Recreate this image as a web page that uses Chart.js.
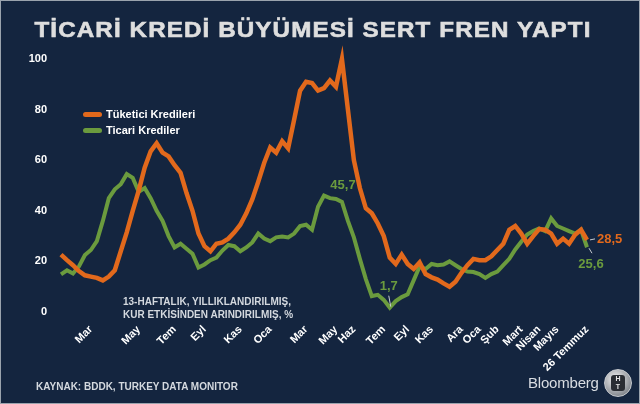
<!DOCTYPE html>
<html>
<head>
<meta charset="utf-8">
<script src="https://cdn.jsdelivr.net/npm/chart.js@4.4.1/dist/chart.umd.min.js"></script>
<style>
  html, body { margin: 0; padding: 0; background: #14253f; }
  #wrap {
    position: relative; width: 640px; height: 404px; overflow: hidden;
    background: #14253f; box-sizing: border-box; border: 1px solid #9aa3ad;
    font-family: "Liberation Sans", Arial, sans-serif;
  }
  #chart { position: absolute; left: -1px; top: -1px; }
  #title {
    position: absolute; left: 0; top: 16px; width: 624px; text-align: center;
    color: #dedede; font-weight: bold; font-size: 22px; letter-spacing: 1px;
    -webkit-text-stroke: 0.6px #dedede;
    transform: scaleX(1.1); transform-origin: 312px 0;
  }
  .legend { position: absolute; left: 82px; color: #fff; font-weight: bold; font-size: 11px; }
  .legend span.bar {
    display: inline-block; width: 19px; height: 5px; border-radius: 3px;
    vertical-align: middle; margin-right: 4px; position: relative; top: -1px;
  }
  #note {
    position: absolute; left: 122px; top: 294px; color: #d4d9df;
    font-weight: bold; font-size: 10px; line-height: 13px;
  }
  #source {
    position: absolute; left: 35px; top: 380px; color: #d4d9df;
    font-weight: bold; font-size: 10px;
  }
  #brand {
    position: absolute; left: 527px; top: 373px; color: #d9dde2;
    font-size: 15px; letter-spacing: -0.2px;
  }
  #logo {
    position: absolute; left: 603px; top: 368px; width: 26px; height: 26px; border-radius: 50%;
    background: radial-gradient(circle at 40% 35%, #f2f2f2, #8c9096 70%, #4a4e55);
    border: 1px solid #c9ccd0;
  }
  #logo div {
    position: absolute; left: 6px; top: 5px; width: 14px; height: 16px; border-radius: 3px;
    background: #2a2d33; color: #e6e6e6; font-size: 7px; font-weight: bold;
    text-align: center; line-height: 8px;
  }
</style>
</head>
<body>
<div id="wrap">
  <canvas id="chart" width="640" height="404"></canvas>
  <div id="title">TİCARİ KREDİ BÜYÜMESİ SERT FREN YAPTI</div>
  <div class="legend" style="top:107px"><span class="bar" style="background:#e2691c"></span>Tüketici Kredileri</div>
  <div class="legend" style="top:123px"><span class="bar" style="background:#6b9b3e"></span>Ticari Krediler</div>
  <div id="note">13-HAFTALIK, YILLIKLANDIRILMIŞ,<br>KUR ETKİSİNDEN ARINDIRILMIŞ, %</div>
  <div id="source">KAYNAK: BDDK, TURKEY DATA MONITOR</div>
  <div id="brand">Bloomberg</div>
  <div id="logo"><div>H<br>T</div></div>
</div>
<script>
// 13-week annualised growth, % (Jan 2019 - 26 Jul 2021)
const tuketici = [22.7, 20.5, 18.5, 16.2, 14.5, 14, 13.5, 12.5, 14, 16.5,
  24, 31.5, 40, 48, 57, 63.5, 66.7, 63, 61.5, 58,
  55, 47, 40, 31, 26, 24, 27, 27.5, 29, 31.5,
  34.5, 39, 44.5, 51.5, 59, 65, 63, 67.5, 64.7, 76,
  87.5, 91, 90.5, 87.5, 88.5, 91.5, 89, 100, 80, 60,
  49, 41, 39, 35, 30, 21.5, 19, 22.7, 19, 17,
  19.6, 15, 13.7, 12.8, 11.3, 10, 12, 15.5, 18.5, 21,
  20.5, 20.5, 22, 24.5, 27, 32.5, 34, 31, 27, 30,
  32.8, 32.5, 31, 27, 29, 27, 30.5, 32.5, 28.5];

const ticari = [14.9, 16.5, 15.2, 18, 22.5, 24.5, 28, 36, 45, 48.5,
  50.5, 54.5, 53, 47.5, 49, 45, 40, 36, 30, 25.5,
  27, 25, 23, 17.6, 18.8, 20.5, 21.5, 24.3, 26.5, 26,
  24, 25.5, 27.5, 31, 29, 28, 29.5, 29.8, 29.5, 31,
  34, 34.5, 32.5, 41.6, 46, 45, 44.7, 43.5, 36, 29.5,
  21, 13, 6.3, 6.8, 4.8, 1.7, 4.3, 5.9, 7, 12.5,
  18, 17, 19, 18.5, 18.8, 20, 18.5, 17, 16, 15.8,
  15, 13.5, 15, 16, 18.5, 21, 24.7, 27.8, 30.6, 32,
  33, 32, 37, 34, 33, 32, 31, 32.5, 25.6];

// month labels and the data point each one sits under
const tickIdx = [5, 13, 19, 24, 30, 35, 41, 46, 49, 54, 58, 62, 67, 70, 73, 77, 80, 83, 88];
const tickText = ['Mar', 'May', 'Tem', 'Eyl', 'Kas', 'Oca', 'Mar', 'May', 'Haz', 'Tem', 'Eyl',
  'Kas', 'Ara', 'Oca', 'Şub', 'Mart', 'Nisan', 'Mayıs', '26 Temmuz'];

const yTicks = [0, 20, 40, 60, 80, 100];

const ORANGE = '#e2691c';
const GREEN = '#6b9b3e';
const FONT = '"Liberation Sans", Arial, sans-serif';

const labels = tuketici.map((v, i) => i);

// value callouts drawn at data points
const callouts = {
  id: 'callouts',
  afterDatasetsDraw(chart) {
    const c = chart.ctx;
    const o = chart.getDatasetMeta(0).data;
    const g = chart.getDatasetMeta(1).data;
    c.save();
    c.font = 'bold 13px ' + FONT;
    c.textBaseline = 'middle';
    c.strokeStyle = '#c8ccd2';
    c.lineWidth = 1;

    // peak of commercial loans
    let p = g[44];
    c.fillStyle = GREEN;
    c.textAlign = 'center';
    c.fillText('45,7', p.x + 19, p.y - 10);

    // trough
    p = g[55];
    c.fillText('1,7', p.x - 1, p.y - 21);
    c.beginPath(); c.moveTo(p.x - 1, p.y - 12); c.lineTo(p.x + 1, p.y - 1); c.stroke();

    // last values
    p = o[o.length - 1];
    c.beginPath(); c.moveTo(p.x + 3, p.y); c.lineTo(p.x + 8, p.y - 1); c.stroke();
    c.fillStyle = ORANGE;
    c.textAlign = 'left';
    c.fillText('28,5', p.x + 10, p.y);

    p = g[g.length - 1];
    c.beginPath(); c.moveTo(p.x + 2, p.y + 1); c.lineTo(p.x + 5, p.y + 6); c.stroke();
    c.fillStyle = GREEN;
    c.textAlign = 'center';
    c.fillText('25,6', p.x + 4, p.y + 17);
    c.restore();
  }
};

new Chart(document.getElementById('chart'), {
  type: 'line',
  data: {
    labels: labels,
    datasets: [{
      label: 'Tüketici Kredileri',
      data: tuketici,
      borderColor: ORANGE,
      borderWidth: 4.5,
      pointRadius: 0,
      tension: 0,
      clip: false
    }, {
      label: 'Ticari Krediler',
      data: ticari,
      borderColor: GREEN,
      borderWidth: 4,
      pointRadius: 0,
      tension: 0,
      clip: false
    }]
  },
  options: {
    responsive: false,
    animation: false,
    layout: { padding: { left: 0, top: 59, right: 53, bottom: 22 } },
    plugins: { legend: { display: false }, tooltip: { enabled: false } },
    scales: {
      x: {
        type: 'category',
        offset: false,
        grid: { display: false },
        border: { display: false },
        afterFit: s => { s.height = 70; },
        ticks: {
          autoSkip: false,
          minRotation: 45,
          maxRotation: 45,
          padding: 3,
          color: '#ffffff',
          font: { family: FONT, size: 11, weight: 'bold' },
          callback: (v) => {
            const k = tickIdx.indexOf(v);
            return k >= 0 ? tickText[k] : '';
          }
        }
      },
      y: {
        min: 0,
        max: 100,
        grid: { display: false },
        border: { display: false },
        afterFit: s => { s.width = 61; },
        afterBuildTicks: s => { s.ticks = yTicks.map(v => ({ value: v })); },
        ticks: {
          padding: 6,
          color: '#ffffff',
          font: { family: FONT, size: 11, weight: 'bold' }
        }
      }
    }
  },
  plugins: [callouts]
});
</script>
</body>
</html>
